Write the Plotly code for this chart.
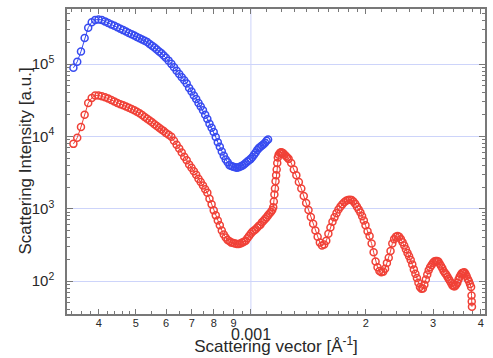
import math
import plotly.graph_objects as go

# ---------------- data ----------------
# shared low-q grid [1/Angstrom]
q_low = [
    3.43e-4, 3.51e-4, 3.59e-4, 3.67e-4, 3.75e-4, 3.83e-4, 3.91e-4, 3.99e-4, 4.07e-4, 4.15e-4,
    4.23e-4, 4.31e-4, 4.39e-4, 4.47e-4, 4.55e-4, 4.63e-4, 4.71e-4, 4.79e-4, 4.87e-4, 4.95e-4,
    5.03e-4, 5.11e-4, 5.19e-4, 5.27e-4, 5.35e-4, 5.43e-4, 5.51e-4, 5.59e-4, 5.67e-4, 5.75e-4,
    5.83e-4, 5.91e-4, 5.99e-4,
    6.09e-4, 6.19e-4, 6.29e-4, 6.39e-4, 6.49e-4, 6.59e-4, 6.69e-4, 6.79e-4, 6.89e-4, 6.99e-4,
    7.09e-4, 7.19e-4, 7.29e-4, 7.39e-4, 7.49e-4, 7.59e-4, 7.69e-4, 7.79e-4, 7.89e-4, 7.99e-4,
    8.09e-4, 8.19e-4, 8.29e-4, 8.39e-4, 8.49e-4, 8.59e-4, 8.69e-4, 8.79e-4, 8.89e-4, 8.99e-4,
    9.09e-4, 9.19e-4, 9.29e-4, 9.39e-4, 9.49e-4, 9.59e-4, 9.69e-4, 9.79e-4, 9.89e-4, 9.99e-4,
    1.009e-3, 1.019e-3, 1.029e-3, 1.039e-3, 1.049e-3, 1.059e-3, 1.069e-3, 1.079e-3, 1.089e-3,
    1.099e-3, 1.109e-3,
]

blue_I = [
    8.9e4, 1.08e5, 1.5e5, 2.3e5, 3.2e5, 3.8e5, 4.1e5, 4.15e5, 4.1e5, 3.91e5,
    3.72e5, 3.55e5, 3.39e5, 3.24e5, 3.1e5, 2.96e5, 2.83e5, 2.71e5, 2.6e5, 2.49e5,
    2.38e5, 2.29e5, 2.2e5, 2.11e5, 2.02e5, 1.9e5, 1.8e5, 1.7e5, 1.6e5, 1.5e5,
    1.42e5, 1.32e5, 1.23e5,
    1.12e5, 1.01e5, 9.1e4, 8.1e4, 7.3e4, 6.6e4, 6.0e4, 5.4e4, 4.7e4, 4.2e4,
    3.7e4, 3.3e4, 2.9e4, 2.6e4, 2.3e4, 2.0e4, 1.74e4, 1.5e4, 1.32e4, 1.15e4,
    9.8e3, 8.3e3, 7.2e3, 6.2e3, 5.4e3, 4.8e3, 4.4e3, 4.0e3, 3.9e3, 3.8e3,
    3.75e3, 3.7e3, 3.75e3, 3.85e3, 3.95e3, 4.1e3, 4.3e3, 4.5e3, 4.7e3, 4.9e3,
    5.2e3, 5.6e3, 6.0e3, 6.5e3, 6.9e3, 7.2e3, 7.5e3, 7.8e3, 8.2e3,
    8.7e3, 9.1e3,
]

red_I_low = [
    7.9e3, 9.6e3, 1.35e4, 2.0e4, 2.9e4, 3.4e4, 3.7e4, 3.7e4, 3.6e4, 3.5e4,
    3.35e4, 3.2e4, 3.05e4, 2.9e4, 2.8e4, 2.7e4, 2.6e4, 2.5e4, 2.4e4, 2.3e4,
    2.2e4, 2.1e4, 1.98e4, 1.86e4, 1.76e4, 1.66e4, 1.57e4, 1.48e4, 1.4e4, 1.32e4,
    1.25e4, 1.19e4, 1.12e4,
    1.06e4, 9.9e3, 8.7e3, 7.7e3, 6.8e3, 6.0e3, 5.25e3, 4.7e3, 4.1e3, 3.7e3,
    3.3e3, 2.95e3, 2.6e3, 2.35e3, 2.1e3, 1.86e3, 1.66e3, 1.38e3, 1.15e3, 9.5e2,
    8.1e2, 6.9e2, 5.9e2, 5.0e2, 4.4e2, 4.0e2, 3.7e2, 3.55e2, 3.4e2, 3.35e2,
    3.3e2, 3.25e2, 3.25e2, 3.3e2, 3.4e2, 3.5e2, 3.6e2, 3.9e2, 4.2e2, 4.5e2,
    4.8e2, 5.0e2, 5.2e2, 5.5e2, 5.8e2, 6.0e2, 6.5e2, 6.8e2, 7.2e2,
    7.6e2, 8.1e2,
]

# red series continues at higher q
q_high = [
    1.119e-3, 1.129e-3, 1.137e-3, 1.144e-3, 1.148e-3, 1.152e-3, 1.156e-3, 1.160e-3, 1.164e-3, 1.168e-3,
    1.172e-3, 1.176e-3, 1.182e-3, 1.190e-3, 1.198e-3, 1.206e-3, 1.215e-3, 1.225e-3, 1.235e-3, 1.245e-3,
    1.255e-3, 1.275e-3, 1.295e-3, 1.315e-3, 1.335e-3, 1.355e-3, 1.375e-3, 1.395e-3, 1.415e-3, 1.435e-3,
    1.455e-3, 1.475e-3, 1.495e-3, 1.515e-3, 1.535e-3, 1.555e-3, 1.575e-3, 1.595e-3, 1.615e-3, 1.635e-3,
    1.655e-3, 1.675e-3, 1.695e-3, 1.715e-3, 1.735e-3, 1.755e-3, 1.775e-3, 1.795e-3, 1.815e-3, 1.835e-3,
    1.855e-3, 1.875e-3, 1.895e-3, 1.915e-3, 1.935e-3, 1.955e-3, 1.975e-3, 1.995e-3,
    2.020e-3, 2.045e-3, 2.070e-3, 2.095e-3, 2.120e-3, 2.145e-3, 2.170e-3, 2.195e-3, 2.220e-3, 2.245e-3,
    2.270e-3, 2.295e-3, 2.320e-3, 2.345e-3, 2.370e-3, 2.395e-3, 2.420e-3, 2.445e-3, 2.470e-3, 2.495e-3,
    2.520e-3, 2.545e-3, 2.570e-3, 2.595e-3, 2.620e-3, 2.645e-3, 2.670e-3, 2.695e-3, 2.720e-3, 2.745e-3,
    2.770e-3, 2.795e-3, 2.820e-3, 2.845e-3, 2.870e-3, 2.895e-3, 2.920e-3, 2.945e-3, 2.970e-3, 2.995e-3,
    3.020e-3, 3.045e-3, 3.070e-3, 3.095e-3, 3.120e-3, 3.145e-3, 3.170e-3, 3.195e-3, 3.220e-3, 3.245e-3,
    3.270e-3, 3.295e-3, 3.320e-3, 3.345e-3, 3.370e-3, 3.395e-3, 3.420e-3, 3.445e-3, 3.470e-3, 3.495e-3,
    3.520e-3, 3.545e-3, 3.570e-3, 3.595e-3, 3.620e-3, 3.645e-3, 3.670e-3, 3.695e-3, 3.720e-3, 3.745e-3,
    3.770e-3, 3.780e-3, 3.785e-3, 3.790e-3,
]

red_I_high = [
    8.6e2, 9.1e2, 9.6e2, 1.05e3, 1.26e3, 1.58e3, 1.9e3, 2.4e3, 2.9e3, 3.5e3,
    4.3e3, 5.1e3, 5.6e3, 5.9e3, 6.05e3, 6.0e3, 5.85e3, 5.6e3, 5.35e3, 5.1e3,
    4.9e3, 4.3e3, 3.5e3, 2.9e3, 2.35e3, 1.9e3, 1.5e3, 1.2e3, 9.6e2, 7.7e2,
    6.2e2, 5.0e2, 4.1e2, 3.4e2, 3.1e2, 3.2e2, 3.6e2, 4.5e2, 5.5e2, 6.6e2,
    7.6e2, 8.7e2, 9.8e2, 1.07e3, 1.15e3, 1.23e3, 1.29e3, 1.32e3, 1.33e3, 1.32e3,
    1.26e3, 1.17e3, 1.07e3, 9.8e2, 8.9e2, 7.9e2, 6.9e2, 5.9e2,
    4.9e2, 4.2e2, 3.3e2, 2.5e2, 1.86e2, 1.55e2, 1.38e2, 1.32e2, 1.35e2, 1.48e2,
    1.78e2, 2.1e2, 2.6e2, 3.3e2, 3.8e2, 4.1e2, 4.2e2, 4.1e2, 3.8e2, 3.45e2,
    3.1e2, 2.75e2, 2.45e2, 2.2e2, 1.95e2, 1.7e2, 1.45e2, 1.26e2, 1.1e2, 95,
    83, 78, 79, 89, 1.05e2, 1.23e2, 1.41e2, 1.55e2, 1.66e2, 1.78e2,
    1.86e2, 1.9e2, 1.9e2, 1.86e2, 1.74e2, 1.62e2, 1.5e2, 1.38e2, 1.29e2, 1.23e2,
    1.15e2, 1.07e2, 1.0e2, 93, 87, 85, 85, 89, 95, 1.05e2,
    1.15e2, 1.23e2, 1.29e2, 1.3e2, 1.32e2, 1.26e2, 1.17e2, 1.07e2, 1.0e2, 91,
    83, 63, 52, 44,
]

# axis ticks
x_tick_vals = [4e-4, 5e-4, 6e-4, 7e-4, 8e-4, 9e-4, 2e-3, 3e-3, 4e-3]
x_tick_text = ["4", "5", "6", "7", "8", "9", "2", "3", "4"]
x_decade_val = 1e-3
x_decade_text = "0.001"
x_minor_vals = [3.4e-4, 3.6e-4, 3.8e-4, 4.2e-4, 4.4e-4, 4.6e-4, 4.8e-4, 5.5e-4, 6.5e-4,
                7.5e-4, 8.5e-4, 9.5e-4, 1.1e-3, 1.2e-3, 1.3e-3, 1.4e-3, 1.5e-3, 1.6e-3,
                1.7e-3, 1.8e-3, 1.9e-3, 2.2e-3, 2.4e-3, 2.6e-3, 2.8e-3, 3.2e-3, 3.4e-3,
                3.6e-3, 3.8e-3]
y_tick_vals = [1e2, 1e3, 1e4, 1e5]
y_tick_text = ["10<sup>2</sup>", "10<sup>3</sup>", "10<sup>4</sup>", "10<sup>5</sup>"]
y_minor_vals = [40, 50, 60, 70, 80, 90,
                200, 300, 400, 500, 600, 700, 800, 900,
                2e3, 3e3, 4e3, 5e3, 6e3, 7e3, 8e3, 9e3,
                2e4, 3e4, 4e4, 5e4, 6e4, 7e4, 8e4, 9e4,
                2e5, 3e5, 4e5, 5e5]
x_limits = [3.30e-4, 4.10e-3]
y_limits = [35, 5.8e5]

# ---------------- styling ----------------
BLUE = "rgb(55,75,240)"
RED = "rgb(240,65,55)"
GRID = "rgb(205,212,250)"
AXIS = "rgb(120,120,120)"
TEXT = "rgb(40,40,40)"
FONT = "Liberation Sans, Arial, sans-serif"

fig = go.Figure()
fig.add_trace(go.Scatter(
    x=q_low, y=blue_I, mode="lines+markers",
    line=dict(color=BLUE, width=1),
    marker=dict(symbol="circle-open", size=7, color=BLUE, line=dict(width=1.5, color=BLUE)),
    showlegend=False,
))
fig.add_trace(go.Scatter(
    x=q_low + q_high, y=red_I_low + red_I_high, mode="lines+markers",
    line=dict(color=RED, width=1),
    marker=dict(symbol="circle-open", size=7, color=RED, line=dict(width=1.5, color=RED)),
    showlegend=False,
))

xr = [math.log10(v) for v in x_limits]
yr = [math.log10(v) for v in y_limits]

# vertical grid line at the decade (shape on a log axis takes data values)
fig.add_shape(type="line", xref="x", yref="paper", x0=x_decade_val, x1=x_decade_val,
              y0=0, y1=1, line=dict(color=GRID, width=1), layer="below")

# decade label sits one row below the digit labels
fig.add_annotation(x=math.log10(x_decade_val), xref="x", y=-0.037, yref="paper",
                   text=x_decade_text, showarrow=False, yanchor="top", xanchor="center",
                   borderpad=0, font=dict(size=16, family=FONT, color=TEXT))

# y-axis title placed as a rotated annotation
fig.add_annotation(x=(25 - 67) / 418, xref="paper", xanchor="center", y=0.5, yref="paper",
                   yanchor="middle", text="Scattering Intensity [a.u.]", textangle=-90,
                   showarrow=False, font=dict(size=17, family=FONT, color=TEXT))

fig.update_layout(
    width=493, height=358,
    margin=dict(l=67, r=8, t=9, b=44),
    paper_bgcolor="white", plot_bgcolor="white",
    font=dict(family=FONT, color=TEXT),
    xaxis=dict(
        type="log", range=xr, tickmode="array", tickvals=x_tick_vals + [x_decade_val],
        ticktext=x_tick_text + [" "],
        ticks="inside", ticklen=5, tickwidth=1, tickcolor=AXIS,
        showline=True, linecolor=AXIS, linewidth=1.5, mirror="allticks",
        showgrid=False, zeroline=False,
        tickfont=dict(size=11, family=FONT), ticklabelstandoff=-2,
        minor=dict(tickmode="array", tickvals=x_minor_vals, ticks="inside", ticklen=3,
                   tickcolor=AXIS, showgrid=False),
        title=dict(text="Scattering vector [Å<sup>-1</sup>]", font=dict(size=17, family=FONT), standoff=12),
        automargin=False,
    ),
    yaxis=dict(
        type="log", range=yr, tickmode="array", tickvals=y_tick_vals, ticktext=y_tick_text,
        ticks="inside", ticklen=6, tickwidth=1, tickcolor=AXIS,
        showline=True, linecolor=AXIS, linewidth=1.5, mirror="allticks",
        showgrid=True, gridcolor=GRID, gridwidth=1, zeroline=False,
        tickfont=dict(size=15, family=FONT), ticklabelstandoff=8,
        minor=dict(tickmode="array", tickvals=y_minor_vals, ticks="inside", ticklen=3,
                   tickcolor=AXIS, showgrid=False),
        automargin=False,
    ),
)

fig.write_html("out.html")
